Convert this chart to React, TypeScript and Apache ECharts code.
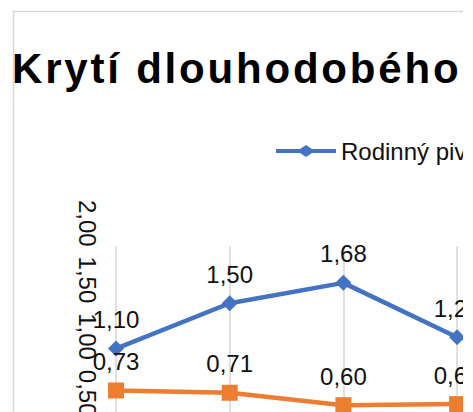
import React, { useEffect, useRef } from "react";
import * as echarts from "echarts";

const titleText = "Krytí dlouhodobého majetku";
const categories = ["1", "2", "3", "4"];
const seriesNames = ["Rodinný pivovar", "Průmyslový pivovar"];
const familyValues = [1.1, 1.5, 1.68, 1.2];
const industrialValues = [0.73, 0.71, 0.6, 0.61];
const yTicks = [0, 0.5, 1, 1.5, 2];

const FONT = "'Liberation Sans', Arial, sans-serif";
const fmt = (v: number) => v.toFixed(2).replace(".", ",");

const diamondLineIcon =
  "path://M0,4 L24,4 L30,0 L36,4 L60,4 L60,8 L36,8 L30,12 L24,8 L0,8 Z";
const squareLineIcon =
  "path://M0,4 L24,4 L24,0 L36,0 L36,4 L60,4 L60,8 L36,8 L36,12 L24,12 L24,8 L0,8 Z";

export default function App() {
  const ref = useRef<HTMLDivElement>(null);
  useEffect(() => {
    if (!ref.current) return;
    const el = ref.current;
    const chart = echarts.init(el, undefined, { renderer: "svg" });
    const gridLeft = 116;
    const gridTop = 246.6;
    const gridH = 226.6;
    const step = 113.7;
    const gridW = step * (categories.length - 1);
    chart.setOption({
      animation: false,
      backgroundColor: "#fff",
      graphic: [
        {
          type: "rect",
          shape: { x: 13.5, y: 11.5, width: 2000, height: 2000 },
          style: { fill: "none", stroke: "#d9d9d9", lineWidth: 1.6 },
          z: -1,
        },
      ],
      title: {
        text: titleText,
        left: 12,
        top: 47,
        padding: 0,
        textStyle: { fontFamily: FONT, fontSize: 42, fontWeight: "bold", color: "#000" },
      },
      legend: {
        left: 276,
        top: 139,
        padding: 0,
        itemWidth: 60,
        itemHeight: 12,
        itemGap: 40,
        data: [
          { name: seriesNames[0], icon: diamondLineIcon },
          { name: seriesNames[1], icon: squareLineIcon },
        ],
        textStyle: { fontFamily: FONT, fontSize: 24, color: "#111" },
      },
      grid: {
        left: gridLeft,
        top: gridTop,
        width: gridW,
        height: gridH,
        containLabel: false,
      },
      xAxis: {
        type: "category",
        data: categories,
        boundaryGap: false,
        axisLine: { show: false },
        axisTick: { show: false },
        axisLabel: { show: false },
        splitLine: { show: true, lineStyle: { color: "#d9d9d9", width: 1.6 } },
      },
      yAxis: {
        type: "value",
        min: yTicks[0],
        max: yTicks[yTicks.length - 1],
        interval: yTicks[1] - yTicks[0],
        axisLine: { show: false },
        axisTick: { show: false },
        splitLine: { show: false },
        axisLabel: {
          rotate: -90,
          align: "right",
          verticalAlign: "top",
          margin: 17,
          fontFamily: FONT,
          fontSize: 24,
          color: "#111",
          formatter: (v: number) => fmt(v),
        },
      },
      series: [
        {
          name: seriesNames[0],
          type: "line",
          data: familyValues,
          symbol: "diamond",
          symbolSize: 16,
          color: "#4472C4",
          lineStyle: { width: 4.5, color: "#4472C4" },
          itemStyle: { color: "#4472C4" },
          label: {
            show: true,
            position: "top",
            distance: 9,
            fontFamily: FONT,
            fontSize: 24,
            color: "#111",
            formatter: (p: any) => fmt(p.value),
          },
        },
        {
          name: seriesNames[1],
          type: "line",
          data: industrialValues,
          symbol: "rect",
          symbolSize: 16,
          color: "#ED7D31",
          lineStyle: { width: 4.5, color: "#ED7D31" },
          itemStyle: { color: "#ED7D31" },
          label: {
            show: true,
            position: "top",
            distance: 9,
            fontFamily: FONT,
            fontSize: 24,
            color: "#111",
            formatter: (p: any) => fmt(p.value),
          },
        },
      ],
    });
    const spaceTitle = () => {
      el.querySelectorAll("text").forEach((t) => {
        if ((t.textContent || "").startsWith("Krytí")) {
          t.setAttribute("letter-spacing", "2.8");
        }
      });
    };
    spaceTitle();
    chart.on("finished", spaceTitle);
    const timer = setTimeout(spaceTitle, 50);
    return () => {
      clearTimeout(timer);
      chart.dispose();
    };
  }, []);
  return (
    <div
      style={{
        position: "fixed",
        left: 0,
        top: 0,
        width: 463,
        height: 412,
        overflow: "hidden",
        background: "#fff",
      }}
    >
      <div ref={ref} style={{ width: 1000, height: 700 }} />
    </div>
  );
}
